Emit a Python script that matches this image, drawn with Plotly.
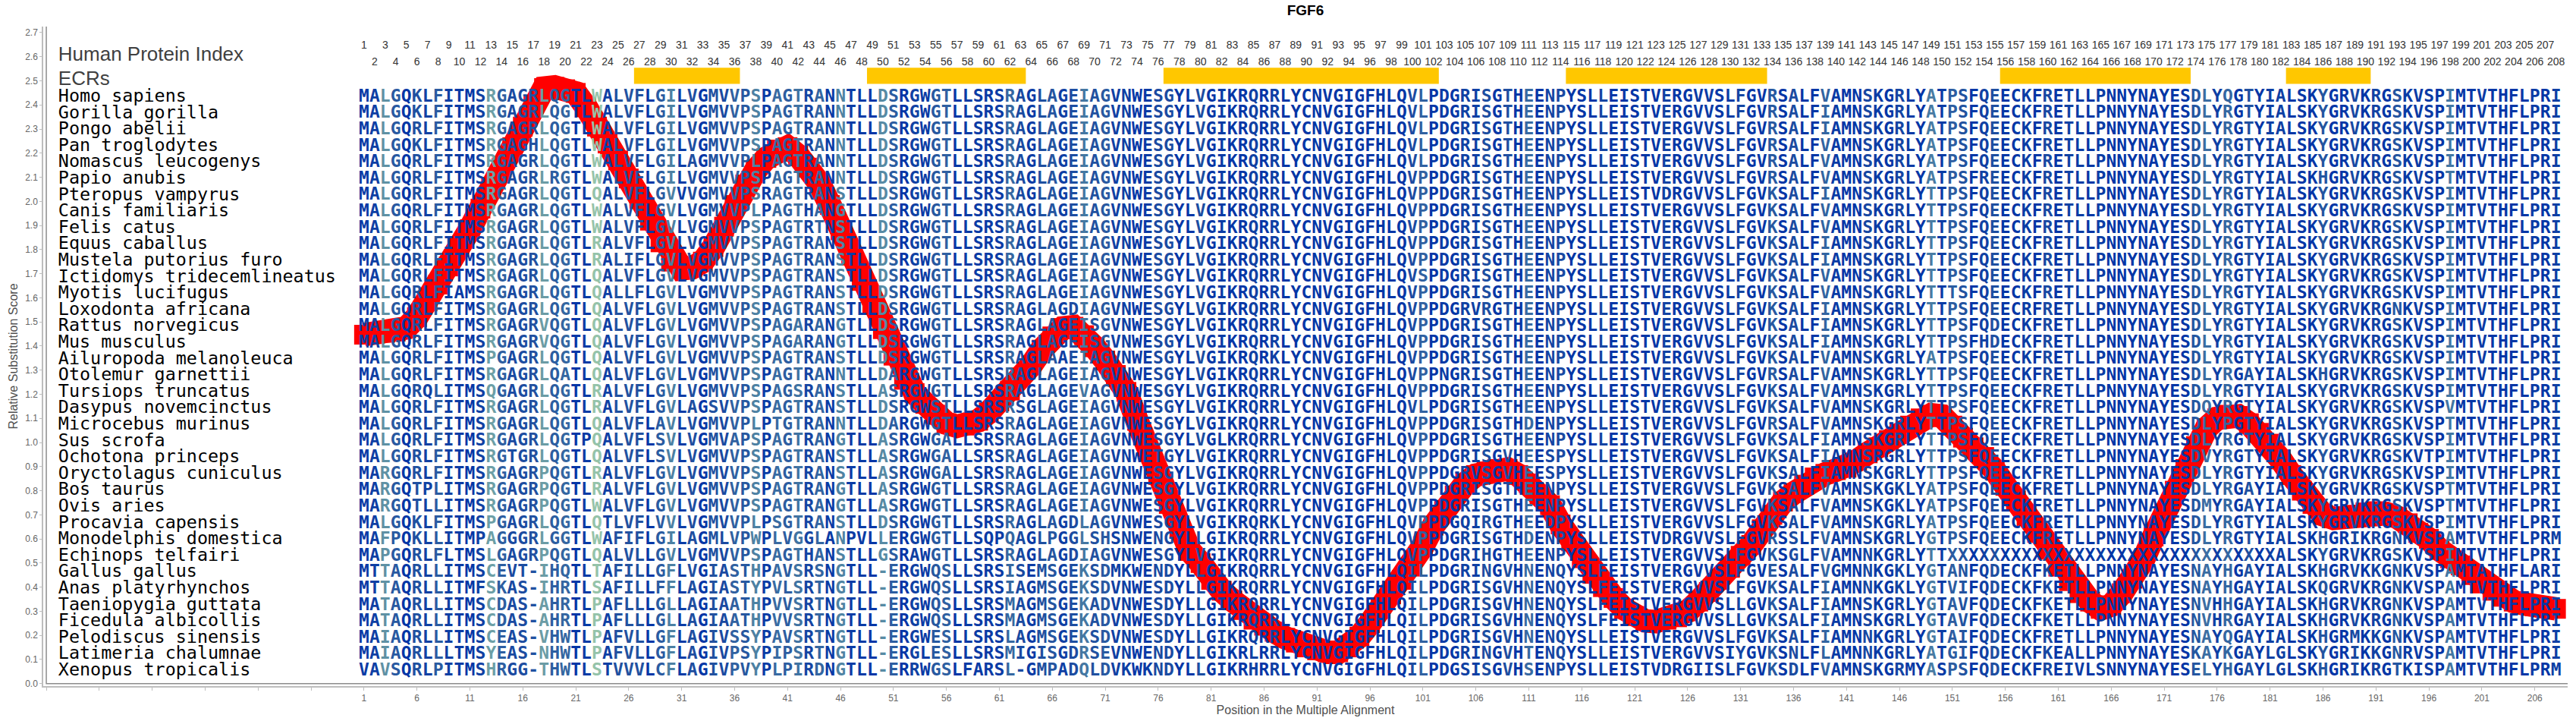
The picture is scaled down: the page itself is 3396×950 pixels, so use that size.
import math
from collections import Counter
import plotly.graph_objects as go

species = ["Homo sapiens","Gorilla gorilla","Pongo abelii","Pan troglodytes","Nomascus leucogenys","Papio anubis",
"Pteropus vampyrus","Canis familiaris","Felis catus","Equus caballus","Mustela putorius furo","Ictidomys tridecemlineatus",
"Myotis lucifugus","Loxodonta africana","Rattus norvegicus","Mus musculus","Ailuropoda melanoleuca","Otolemur garnettii",
"Tursiops truncatus","Dasypus novemcinctus","Microcebus murinus","Sus scrofa","Ochotona princeps","Oryctolagus cuniculus",
"Bos taurus","Ovis aries","Procavia capensis","Monodelphis domestica","Echinops telfairi","Gallus gallus","Anas platyrhynchos",
"Taeniopygia guttata","Ficedula albicollis","Pelodiscus sinensis","Latimeria chalumnae","Xenopus tropicalis"]

seq_a = ["MALGQKLFITMSRGAGRLQGTLWALVFLGIL","MALGQKLFITMSRGAGRLQGTLWALVFLGIL","MALGQRLFITMSRGAGRLQGTLWALVFLGIL",
"MALGQKLFITMSRGAGHLQGTLWALVFLGIL","MALGQRLFITMSRGAGRLQGTLWALVFLGIL","MALGQRLFITMSRGAGRLRGTLWALVFLGIL",
"MALGQRLFITMSRGAGRLQGTLQALVFLGVV","MALGQRLFITMSRGAGRLQGTLWALVFLGVL","MALGQRLFITMSRGAGRLQGTLWALVFLGVL",
"MALGQRLFITMSRGAGRLQGTLRALVFLGVL","MALGQRLFITMSRGAGRLQGTLRALIFLGVL","MALGQRLFITMSRGAGRLQGTLQALVFLGVL",
"MALGQRLFIAMSRGAGRLQGTLQALLFLGVL","MALGQRLFITMSRGAGRLQGTLQALVFLGVL","MALGQRLFITMSRGAGRVQGTLQALVFLGVL",
"MALGQRLFITMSRGAGRVQGTLQALVFLGVL","MALGQRLFITMSPGAGRLQGTLQALVFLGVL","MALGQRLFITMSRGAGRLQATLQALVFLGVL",
"MALGQRQLITMSQGAGRLQGTLRALVFLGVL","MALGQRLFITMSRGAGRLQGTLRALVFLGVL","MALGQRLFITMSRGAGRLQGTLQALVFLAVL",
"MALGQRLFITMSRGAGRLQGTPQALVFLSVL","MALGQRLFITMSRGTGRLQGTLQALVFLSVL","MARGQRLFITMSRGAGRPQGTLRALVFLGVL",
"MARGQTPLITMSRGAGRPQGTLRALVFLGVL","MARGQTLLITMSRGAGRPQGTLWALVFLGVL","MALGQKLFITMSPGAGRLQGTLQTLVFLVVL",
"MAFPQKLLITMPAGGGRLGGTLWAFIFLGIL","MAPGQRLFLTMSLGAGRPQGTLQALVLLGVL","MTTAQRLLITMSCEVT-IHQTLTAFILLGFL",
"MTTAQRLLITMFSKAS-IHRTLSAFILLFFL","MATAQRLLITMSCDAS-AHRTLPAFLLLGLL","MATAQRLLITMSCDAS-AHRTLPAFLLLGLL",
"MAIAQRLLITMSCEAS-VHWTLPAFVLLGFL","MAIAQRLLLTMSYEAS-NHWTLPAFVLLGFL","VAVSQRLPITMSHRGG-THWTLSTVVVLCFL"]

seq_b = ["VGMVVPSPAGTRANNTLLDSRGWGTLLSRSRAGLAGEIAGVNWESGYLVGIKRQRRLYCNV",
"VGMVVPSPAGTRANNTLLDSRGWGTLLSRSRAGLAGEIAGVNWESGYLVGIKRQRRLYCNV",
"VGMVVPSPAGTRANNTLLDSRGWGTLLSRSRAGLAGEIAGVNWESGYLVGIKRQRRLYCNV",
"VGMVVPSPAGTRANNTLLDSRGWGTLLSRSRAGLAGEIAGVNWESGYLVGIKRQRRLYCNV",
"AGMVVPLPAGTRANNTLLDSRGWGTLLSRSRAGLAGEIAGVNWESGYLVGIKRQRRLYCNV",
"VGMVVPSPAGTRANNTLLDSRGWGTLLSRSRAGLAGEIAGVNWESGYLVGIKRQRRLYCNV",
"VGMVVPSRAGTRANSTLLDSRGWGTLLSRSRAGLAGEIAGVNWESGYLVGIKRQRRLYCNV",
"VGMVVPLPAGTHANGTLLDSRGWGTLLSRSRAGLAGEIAGVNWESGYLVGIKRQRRLYCNV",
"VGMVVPSPAGTRTNSTLLDSRGWGTLLSRSRAGLAGEIAGVNWESGYLVGIKRQRRLYCNV",
"VGMVVPSPAGTRANSTLLDSRGWGTLLSRSRAGLAGEIAGVNWESGYLVGIKRQRRLYCNV",
"VGMVVPSPAGTRANSTLLDSRGWGTLLSRSRAGLAGEIAGVNWESGYLVGIKRQRRLYCNV",
"VGMVVPSPAGTRANSTLLDSRGWGTLLSRSRAGLAGEIAGVNWESGYLVGIKRQRRLYCNV",
"VGMVVPSPAGTRANSTLLDSRGWGTLLSRSRAGLAGEIAGVNWESGYLVGIKRQRRLYCNV",
"VGMVVPSPAGTRANSTLLDSRGWGTLLSRSRAGLAGDIAGVNWESGYLVGIKRQRRLYCNV",
"VGMVVPSPAGARANGTLLDSRGWGTLLSRSRAGLAGEISGVNWESGYLVGIKRQRRLYCNV",
"VGMVVPSPAGARANGTLLDSRGWGTLLSRSRAGLAGEISGVNWESGYLVGIKRQRRLYCNV",
"VGMVVPSPAGTRANSTLLDSRGWGTLLSRSRAGLAAEIAGVNWESGYLVGIKRQRKLYCNV",
"VGMVVPSPAGTRANNTLLDARGWGTLLSRSRAGLAGEIAGVNWESGYLVGIKRQRRLYCNV",
"VGMVVPSPAGSRANSTLLASRGWGTLLSRSRAGLAGEVAGVNWESGYLVGIKRQRRLYCNV",
"AGSVVPSPAGTRANSTLLDSRGWSTLLSRSRSGLAGEIAGVNWESGYLVGIKRQRRLYCNV",
"VGMVVPLPTGTRANNTLLDARGWGTLLSRSRAGLAGEIAGVNWESGYLVGIKRQRRLYCNV",
"VGMVAPSPAGTRANGTLLASRGWGALLSRSRAGLAGEIAGVNWESGYLVGLKRQRRLYCNV",
"VGMVVPSPAGTRANSTLLASRGWGALLSRSRAGLAGEIAGVNWETGYLVGIKRQRRLYCNV",
"VGMVVPSPAGTRANSTLLASRGWGALLSRSRAGLAGEIAGVNWESGYLVGIKRQRRLYCNV",
"VGMVVPSPAGTRANGTLLASRGWGTLLSRSRAGLAGEIAGVNWESGYLVGIKRQRRLYCNV",
"VGMVVPSPAGTRANGTLLASRGWGTLLSRSRAGLAGEIAGVNWESGYLVGIKRQRRLYCNV",
"VGMVVPLPSGTRANSTLLDSRGWGTLLSRSRAGLAGDLAGVNWESGYLVGIKRQRKLYCNV",
"AGMLVPWPLVGGLANPVLLERGWGTLLSQPQAGLPGGLSHSNWENGYLLGIKRQRRLYCNV",
"VGMVVPSPAGTHANSTLLGSRAWGTLLSRSRAGLAGDIAGVNWESGYLVGIKRQRRLYCNV",
"VGIASTHPAVSRSNGTLL-ERGWQSLLSRSISEMSGEKSDMKWENDYLLGIKRQRRLYCNV",
"AGIASTYPVLSRTNGTLL-ERGWQSLLSRSIAGMSGEKSDVNWESDYLLGIKRQRRLYCNV",
"AGIAATHPVVSRTNGTLL-ERGWQSLLSRSMAGMSGEKADVNWESDYLLGIKRQRRLYCNV",
"AGIAATHPVVSRTNGTLL-ERGWQSLLSRSMAGMSGEKADVNWESDYLLGIKRQRRLYCNV",
"AGIVSSYPAVSRTNGTLL-ERGWESLLSRSLAGMSGEKSDVNWESDYLLGIKRQRRLYCNV",
"AGIVPSYPIPSRTNGTLL-ERGLESLLSRSMIGISGDRSEVNWENDYLLGIKRLRRLYCNV",
"AGIVPVYPLPIRDNGTLL-ERRWGSLFARSL-GMPADQLDVKWKNDYLLGIKRHRRLYCNV"]

seq_c = ["GIGFHLQVLPDGRISGTHEENPYSLLEISTVERGVVSLFGVRSALFVAMNSKGRLYATPS",
"GIGFHLQVLPDGRISGTHEENPYSLLEISTVERGVVSLFGVRSALFIAMNSKGRLYATPS",
"GIGFHLQVLPDGRISGTHEENPYSLLEISTVERGVVSLFGVRSALFIAMNSKGRLYATPS",
"GIGFHLQVLPDGRISGTHEENPYSLLEISTVERGVVSLFGVRSALFVAMNSKGRLYATPS",
"GIGFHLQVLPDGRISGTHEENPYSLLEISTVERGVVSLFGVRSALFVAMNSKGRLYATPS",
"GIGFHLQVPPDGRISGTHEENPYSLLEISTVERGVVSLFGVRSALFVAMNSKGRLYATPS",
"GIGFHLQVPPDGRISGTHEENPYSLLEISTVDRGVVSLFGVKSALFIAMNSKGRLYTTPS",
"GIGFHLQVPPDGRISGTHEENPYSLLEISTVERGVVSLFGVKSALFVAMNSKGRLYTTPS",
"GIGFHLQVPPDGRISGTHEENPYSLLEISTVERGVVSLFGVKSALFVAMNSKGRLYTTPS",
"GIGFHLQVPPDGRISGTHEENPYSLLEISTVERGVVSLFGVKSALFIAMNSKGRLYTTPS",
"GIGFHLQVPPDGRISGTHEENPYSLLEISTVERGVVSLFGVKSALFIAMNSKGRLYTTPS",
"GIGFHLQVSPDGRISGTHEENPYSLLEISTVERGVVSLFGVKSALFVAMNSKGRLYTTPS",
"GIGFHLQVPPDGRISGTHEENPYSLLEISTVERGVVSLFGVKSALFVAMNSKGRLYTTTS",
"GIGFHLQVPPDGRVRGTHEENPYSLLEISTVERGVVSLFGVKSALFIAMNSKGRLYTTPS",
"GIGFHLQVPPDGRISGTHEENPYSLLEISTVERGVVSLFGVKSALFIAMNSKGRLYTTPS",
"GIGFHLQVPPDGRISGTHEENPYSLLEISTVERGVVSLFGVKSALFIAMNSKGRLYTTPS",
"GIGFHLQVPPDGRISGTHEENPYSLLEISTVERGVVSLFGVKSALFVAMNSKGRLYATPS",
"GIGFHLQVPPNGRISGTHEENPYSLLEISTVERGVVSLFGVRSALFVAMNSKGRLYTTPS",
"GIGFHLQVPPDGRISGTHEENPYSLLEISTVERGVVSLFGVKSALFVAMNSKGRLYTTPS",
"GIGFHLQVLPDGRISGTHEENPYSLLEISTVERGVVSLFGVKSALFVAMNSKGRLYTTPS",
"GIGFHLQVPPDGRISGTHDENPYSLLEISTVERGVVSLFGVRSALFVAMNSKGRLYTTPS",
"GIGFHLQVPPDGRISGTHEENPYSLLEISTVERGVVSLFGVKSALFIAMNSKGRLYTTPS",
"GIGFHLQVPPDGRISGVHEESPYSLLEISTVERGVVSLFGVKSALFIAMNSRGRLYTTPS",
"GIGFHLQVPPDGRVSGVHEESPYSLLEISTVERGVVSLFGVKSALFIAMNSKGRLYTTPS",
"GIGFHLQVPPDGRISGTHEENPYSLLEISTVERGVVSLFGVKSALFVAMNSKGKLYATPS",
"GIGFHLQVPPDGRISGTHEENPYSLLEISTVERGVVSLFGVKSALFVAMNSKGKLYATPS",
"GIGFHLQVPPDGQIRGTHEEDPYSLLEISTVERGVVSLFGVKSALFVAMNSKGRLYATPS",
"GIGFHLQVPPDGRISGTHDENPYSLLEISTVDRGVVSLFGVRSSLFVAMNSKGRLYGTPS",
"GIGFHLQVPPDGRIHGTHEENPYSLLEISTVERGVVSLFGVKSGLFVAMNNKGRLYTTXX",
"GIGFHLQILPDGRINGVHNENQYSLFEISTVERGVVSLFGVESALFVGMNNKGKLYGTAN",
"GIGFHLQILPDGRISGVHNENQYSLFEISTVERGVVSLFGVKSALFIAMNNKGKLYGTVI",
"GIGFHLQILPDGRISGVHNENQYSLFEISTVERGVVSLLGVKSALFIAMNSKGRLYGTAV",
"GIGFHLQILPDGRISGVHNENQYSLFEISTVERGVVSLLGVKSALFIAMNSKGRLYGTAV",
"GIGFHLQILPDGRISGVHNENQYSLLEISTVERGVVSLFGVKSALFIAMNNKGRLYGTAI",
"GIGFHLQILPDGRINGVHTENQYSLLEISTVERGVVSIYGVKSNLFLAMNNKGRLYATGI",
"GIGFHLQILPDGSISGVHSENPYSLLEISTVDRGIISLFGVKSDLFVAMNSKGRMYASPS"]

seq_d = ["FQEECKFRETLLPNNYNAYESDLYQGTYIALSKYGRVKRGSKVSPIMTVTHFLPRI",
"FQEECKFRETLLPNNYNAYESDLYRGTYIALSKYGRVKRGSKVSPIMTVTHFLPRI",
"FQEECKFRETLLPNNYNAYESDLYRGTYIALSKYGRVKRGSKVSPIMTVTHFLPRI",
"FQEECKFRETLLPNNYNAYESDLYRGTYIALSKYGRVKRGSKVSPIMTVTHFLPRI",
"FQEECKFRETLLPNNYNAYESDLYRGTYIALSKYGRVKRGSKVSPIMTVTHFLPRI",
"FREECKFRETLLPNNYNAYESDLYRGTYIALSKHGRVKRGSKVSPTMTVTHFLPRI",
"FQEECKFRETLLPNNYNAYESDLYRGTYIALSKYGRVKRGSKVSPIMTVTHFLPRI",
"FQEECKFRETLLPNNYNAYESDLYRGTYIALSKYGRVKRGSKVSPIMTVTHFLPRI",
"FQEECKFRETLLPNNYNAYESDLYRGTYIALSKYGRVKRGSKVSPIMTVTHFLPRI",
"FQEECKFRETLLPNNYNAYESDLYRGTYIALSKYGRVKRGSKVSPIMTVTHFLPRI",
"FQEECKFRETLLPNNYNAYESDLYRGTYIALSKYGRVKRGSKVSPIMTVTHFLPRI",
"FQEECKFRETLLPNNYNAYESDLYRGTYIALSKYGRVKRGSKVSPIMTVTHFLPRI",
"FQEECKFRETLLPNNYNAYESDLYRGTYIALSKYGRVKRGSKVSPIMTVTHFLPRI",
"FQEECRFRETLLPNNYNAYESDLYRGTYIALSKYGRVKRGNKVSPIMTVTHFLPRI",
"FQDECKFRETLLPNNYNAYESDLYRGTYIALSKYGRVKRGSKVSPIMTVTHFLPRI",
"FHDECKFRETLLPNNYNAYESDLYRGTYIALSKYGRVKRGSKVSPIMTVTHFLPRI",
"FQEECKFRETLLPNNYNAYESDLYRGTYIALSKYGRVKRGSKVSPIMTVTHFLPRI",
"FQEECKFRETLLPNNYNAYESDLYRGAYIALSKHGRVKRGSKVSPIMTVTHFLPRI",
"FQEECKFRETLLPNNYNAYESDLYRGTYIALSKYGRVKRGSKVSPIMTVTHFLPRI",
"FQEECKFRETLLPNNYNAYESDQYRGTYIALSKYGRVKRGSKVSPVMTVTHFLPRI",
"FQEECKFRETLLPNNYNAYESDLYPGTYIALSKYGRVKRGSKVSPTMTVTHFLPRI",
"FQEECKFRETLLPNNYNAYESDLYRGTYIALSKYGRVKRGSKVSPIMTVTHFLPRI",
"FQEECKFRETLLPNNYNAYESDVYRGTYIALSKYGRVKRGSKVTPIMTVTHFLPRI",
"FQEECKFRETLLPNNYNAYESDLYRGTYIALSKYGRVKRGSKVSPIMTVTHFLPRI",
"FQEECKFRETLLPNNYNAYESDLYRGAYIALSKYGRVKRGSKVSPTMTVTHFLPRI",
"FQEECKFRETLLPNNYNAYESDMYRGAYIALSKYGRVKRGSKVSPTMTVTHFLPRI",
"FQEECKFRETLLPNNYNAYESDLYRGTYIALSKYGRVKRGSKVSPIMTVTHFLPRI",
"FQEECKFRETLLPNNYNAYESDLYRGTYIALSKHGRIKRGNKVSPAMTVTHFLPRM",
"XXXXXXXXXXXXXXXXXXXXXXXXXXXXXALSKYGRVKRGSKVSPIMTVTHFLPRI",
"FQDECKFKETLLPNNYNAYESNAYHGAYIALSKHGRVKKGNKVSPAMTATHFLARI",
"FQDECKFKETLLPNNYNAYESNAYHGAYIALSKQGRVKRGNKVSPAMTVTHFLPRI",
"FQDECKFKETLLPNNYNAYESNVHHGAYIALSKHGRVKRGNKVSPAMTVTHFLPRI",
"FQDECKFKETLLPNNYNAYESNVHRGAYIALSKHGRVKRGNKVSPAMTVTHFLPRI",
"FQDECKFRETLLPNNYNAYESNAYQGAYIALSKHGRMKKGNKVSPAMTVTHFLPRI",
"FQDECKFKEALLPNNYNAYESKAYKGAYLGLSKYGRIKKGNRVSPAMTVTHFLPRI",
"FQDECKFREIVLSNNYNAYESELYHGAYLGLSKHGRIKRGTKISPAMTVTHFLPRM"]

ecr_start = [27, 49, 77, 115, 156, 183]
ecr_end = [36, 63, 102, 133, 173, 190]

score_pos = list(range(1, 209))
score = [1.447,1.45,1.455,1.46,1.475,1.52,1.585,1.655,1.73,1.81,1.885,1.97,2.06,2.14,2.225,2.31,2.40,2.47,2.475,
2.465,2.45,2.39,2.31,2.24,2.17,2.095,2.01,1.92,1.83,1.75,1.72,1.725,1.75,1.81,1.895,1.985,2.07,2.13,2.18,
2.215,2.225,2.19,2.14,2.075,1.985,1.88,1.775,1.67,1.57,1.47,1.36,1.26,1.205,1.16,1.115,1.08,1.067,1.07,1.09,
1.125,1.17,1.215,1.27,1.32,1.385,1.44,1.475,1.48,1.445,1.395,1.34,1.28,1.21,1.09,.98,.865,.745,.645,.55,
.50,.43,.385,.345,.305,.265,.24,.215,.19,.17,.15,.138,.13,.13,.15,.195,.25,.31,.37,.43,
.485,.57,.655,.72,.78,.83,.865,.88,.89,.89,.865,.83,.785,.74,.66,.59,.52,.455,.40,.355,
.31,.28,.26,.257,.265,.275,.30,.34,.38,.43,.48,.53,.575,.64,.70,.755,.79,.825,.855,.87,
.885,.895,.925,.955,.98,1.01,1.035,1.07,1.10,1.115,1.11,1.07,1.02,.98,.94,.885,.82,.76,.695,.625,
.555,.485,.425,.375,.34,.31,.325,.375,.435,.51,.61,.705,.80,.89,.985,1.06,1.10,1.115,1.11,1.08,
1.04,.995,.93,.865,.80,.745,.70,.685,.69,.70,.71,.715,.705,.69,.665,.625,.60,.555,.52,.49,
.45,.415,.385,.36,.34,.33,.32,.315,.31]

rows = [a + b + c + d for a, b, c, d in zip(seq_a, seq_b, seq_c, seq_d)]
for name, r in zip(species, rows):
    assert len(r) == 208, (name, len(r))
assert len(score) == len(score_pos), len(score)
n_col = 208

def lerp_hex(stops, t):
    t = max(0.0, min(1.0, t))
    for (t0, c0), (t1, c1) in zip(stops, stops[1:]):
        if t <= t1:
            f = (t - t0) / (t1 - t0)
            return "rgb(%d,%d,%d)" % tuple(round(a + (b - a) * f) for a, b in zip(c0, c1))
    return "rgb(%d,%d,%d)" % stops[-1][1]

stops = [(0.0, (4, 54, 166)), (0.35, (32, 80, 160)), (0.62, (78, 130, 163)), (0.92, (160, 205, 170)), (1.0, (160, 205, 170))]

col_colour = []
for j in range(n_col):
    cnt = Counter(r[j] for r in rows if r[j] != "X")
    tot = sum(cnt.values())
    h = -sum(v / tot * math.log2(v / tot) for v in cnt.values())
    col_colour.append(lerp_hex(stops, h / 2.5))

row_top = 2.432
row_step = 0.068
row_y = [row_top - i * row_step for i in range(len(species))]

fig = go.Figure()

for s, e in zip(ecr_start, ecr_end):
    fig.add_shape(type="rect", x0=s - 0.5, x1=e + 0.5, y0=2.487, y1=2.554,
                  fillcolor="#FFC700", line=dict(width=0), layer="below")
fig.add_shape(type="rect", x0=-29, x1=209.2, y0=0, y1=2.727, fillcolor="rgba(0,0,0,0)",
              line=dict(color="#8c8c8c", width=1.5), layer="below")

fig.add_trace(go.Scatter(x=score_pos, y=score, mode="lines+markers",
                         line=dict(color="#FF0000", width=31),
                         marker=dict(symbol="square", size=26, color="#FF0000", line=dict(width=0)),
                         hoverinfo="skip", showlegend=False))

xs, ys, ts, cs = [], [], [], []
for i, r in enumerate(rows):
    for j, ch in enumerate(r):
        xs.append(j + 1); ys.append(row_y[i]); ts.append(ch); cs.append(col_colour[j])
fig.add_trace(go.Scatter(x=xs, y=ys, text=ts, mode="text", textposition="middle center",
                         textfont=dict(family="DejaVu Sans Mono", size=23, color=cs, weight="bold"),
                         hoverinfo="skip", showlegend=False, cliponaxis=False))

fig.add_trace(go.Scatter(x=[-27.87] * len(species), y=row_y, text=species, mode="text",
                         textposition="middle right",
                         textfont=dict(family="DejaVu Sans Mono", size=23.4, color="#000000"),
                         hoverinfo="skip", showlegend=False))

fig.add_trace(go.Scatter(x=[-27.87, -27.87], y=[2.604, 2.504], text=["Human Protein Index", "ECRs"], mode="text",
                         textposition="middle right",
                         textfont=dict(family="Liberation Sans", size=26, color="#404040"),
                         hoverinfo="skip", showlegend=False))

idx = list(range(1, n_col + 1))
fig.add_trace(go.Scatter(x=idx, y=[2.646 if k % 2 else 2.576 for k in idx], text=[str(k) for k in idx],
                         mode="text", textposition="middle center",
                         textfont=dict(family="Liberation Sans", size=14, color="#333333"),
                         hoverinfo="skip", showlegend=False))

x_ticks = list(range(-29, 207, 5))
y_ticks = [i / 10 for i in range(0, 28)]

fig.update_layout(
    width=3396, height=950,
    margin=dict(l=57, r=11, t=35, b=46, autoexpand=False),
    paper_bgcolor="white", plot_bgcolor="white", showlegend=False,
    title=dict(text="<b>FGF6</b>", x=0.5, xref="paper", xanchor="center", y=1 - 13 / 950, yref="container",
               yanchor="middle", font=dict(family="Liberation Sans", size=19, color="#000000")),
    xaxis=dict(range=[-29.29, 209.1], tickvals=x_ticks, ticktext=[str(t) if t > 0 else "" for t in x_ticks],
               showgrid=False, zeroline=False, showline=True, linecolor="#bdbdbd", linewidth=1.5,
               ticks="outside", ticklen=4, tickcolor="#bdbdbd", tickangle=0,
               tickfont=dict(family="Liberation Sans", size=12, color="#666666"),
               title=dict(text="Position in the Multiple Alignment", standoff=2,
                          font=dict(family="Liberation Sans", size=16, color="#505050"))),
    yaxis=dict(range=[-0.0104, 2.725], tickvals=y_ticks, ticktext=["%.1f" % v for v in y_ticks],
               showgrid=False, zeroline=False, showline=True, linecolor="#bdbdbd", linewidth=1.5,
               ticks="outside", ticklen=3, tickcolor="#bdbdbd",
               tickfont=dict(family="Liberation Sans", size=12, color="#666666"),
               title=dict(text="Relative Substitution Score", standoff=6,
                          font=dict(family="Liberation Sans", size=16, color="#505050"))),
)

fig.write_html("out.html", config=dict(displayModeBar=False), post_script="document.body.style.margin='0';")
